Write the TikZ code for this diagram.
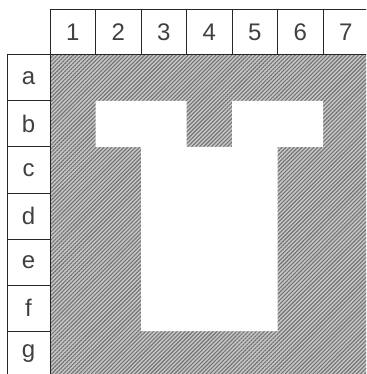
\documentclass[tikz,border=0pt]{standalone}
\usepackage{fontspec}
\setmainfont{Liberation Sans}
\usetikzlibrary{patterns.meta}
\begin{document}
\begin{tikzpicture}[x=1pt,y=-1pt,
  hdr/.style={draw=black!85, line width=1pt, inner sep=0pt, font=\fontsize{24}{24}\selectfont, text=black!75},
  colhdr/.style={hdr, minimum width=45.5pt, minimum height=45pt},
  rowhdr/.style={hdr, minimum width=43pt, minimum height=46pt},
  hatch/.style={pattern={Lines[angle=45,distance=2.8pt,line width=1.1pt]}, pattern color=black!55}]
\useasboundingbox (0,0) rectangle (366,374);
\clip (0,0) rectangle (366,374);
% hatched field
\fill[black!22] (50,55) rectangle (368.5,377);
\fill[hatch] (50,55) rectangle (368.5,377);
% white T-shaped area
\fill[white] (95.5,101) -- (186.5,101) -- (186.5,147) -- (232,147) -- (232,101) -- (323,101) -- (323,147) -- (277.5,147) -- (277.5,331) -- (141,331) -- (141,147) -- (95.5,147) -- cycle;
% column headers
\foreach \t [count=\i] in {1,2,3,4,5,6,7}
  \node[colhdr] (c\i) at ({50+45.5*(\i-0.5)},32.5) {\t};
% row headers
\foreach \t [count=\j] in {a,b,c,d,e,f,g}
  \node[rowhdr] (r\t) at (28.5,{55+46*(\j-0.5)}) {\t};
\end{tikzpicture}
\end{document}
